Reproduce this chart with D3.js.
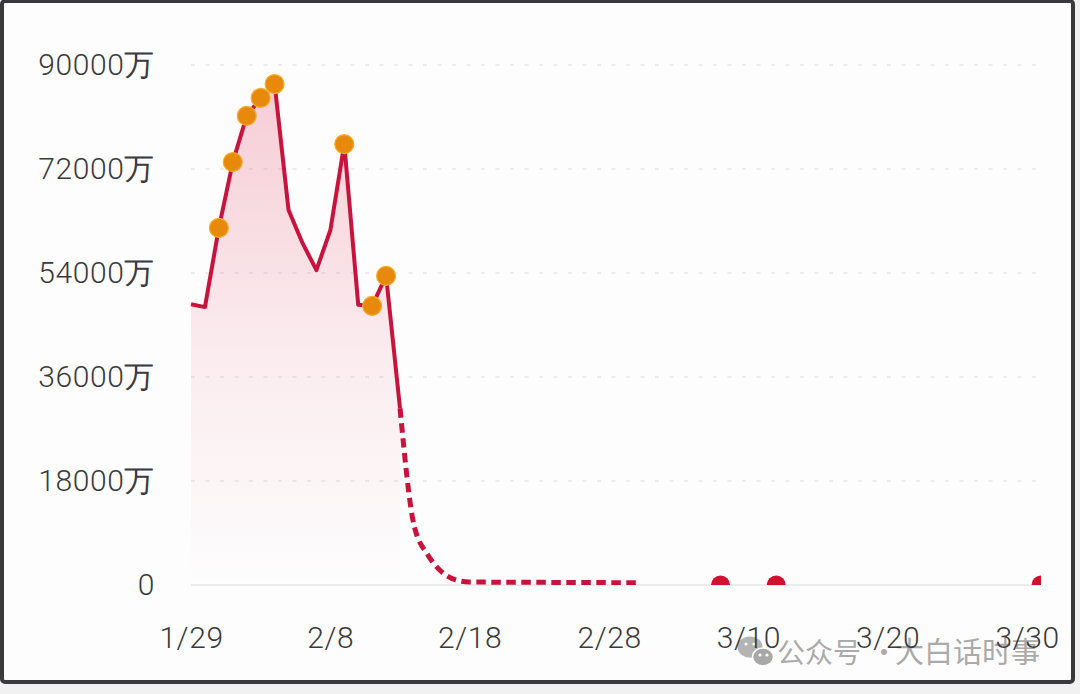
<!DOCTYPE html>
<html><head><meta charset="utf-8">
<script src="https://cdn.jsdelivr.net/npm/d3@7"></script>
<style>html,body{margin:0;padding:0;background:#f1f1f1;overflow:hidden}</style>
</head><body><svg id="c" width="1080" height="694"></svg>
<script>
// ---- data ----
const actualDates = ["2025-01-29","2025-01-30","2025-01-31","2025-02-01","2025-02-02","2025-02-03","2025-02-04","2025-02-05","2025-02-06","2025-02-07","2025-02-08","2025-02-09","2025-02-10","2025-02-11","2025-02-12","2025-02-13"];
const actualValues = [48600, 48100, 61800, 73200, 81200, 84300, 86700, 64900, 59200, 54500, 61400, 76300, 48500, 48300, 53500, 30600];
const markedDates = ["2025-01-31","2025-02-01","2025-02-02","2025-02-03","2025-02-04","2025-02-09","2025-02-11","2025-02-12"];
const forecastDates = ["2025-02-13","2025-02-14","2025-02-15","2025-02-16","2025-02-17","2025-02-18","2025-02-19","2025-02-20","2025-02-21","2025-02-22","2025-02-23","2025-02-24","2025-02-25","2025-02-26","2025-02-27","2025-02-28","2025-03-01","2025-03-02"];
const forecastValues = [30600, 10400, 5200, 2250, 870, 520, 500, 490, 480, 470, 460, 450, 440, 430, 420, 410, 400, 400];
const dotDates = ["2025-03-08","2025-03-12","2025-03-31"];
const dotValues = [0, 0, 0];
const xTickDates = ["2025-01-29","2025-02-08","2025-02-18","2025-02-28","2025-03-10","2025-03-20","2025-03-30"];
const yTicks = [0, 18000, 36000, 54000, 72000, 90000];
const watermarkA = "公众号";
const watermarkDot = "·";
const watermarkB = "大白话时事";

const parse = d3.timeParse("%Y-%m-%d");
const fmtISO = d3.timeFormat("%Y-%m-%d");
const svg = d3.select("#c");

// frame
svg.append("rect").attr("x",0).attr("y",0).attr("width",1080).attr("height",694).attr("fill","#f1f1f1");
svg.append("rect").attr("x",2).attr("y",1).attr("width",1071).attr("height",681).attr("rx",3)
  .attr("fill","#fdfdfd").attr("stroke","#3a3a3c").attr("stroke-width",4);

const x = d3.scaleTime().domain([parse("2025-01-29"), parse("2025-03-31")]).range([191, 1041]);
const y = d3.scaleLinear().domain([0, 90000]).range([585, 65]);

const defs = svg.append("defs");
const grad = defs.append("linearGradient").attr("id","ag").attr("gradientUnits","userSpaceOnUse")
  .attr("x1",0).attr("y1",y(90000)).attr("x2",0).attr("y2",y(0));
grad.append("stop").attr("offset","0%").attr("stop-color","#e03a5c").attr("stop-opacity",0.26);
grad.append("stop").attr("offset","55%").attr("stop-color","#e03a5c").attr("stop-opacity",0.09);
grad.append("stop").attr("offset","100%").attr("stop-color","#e03a5c").attr("stop-opacity",0.0);
defs.append("clipPath").attr("id","pc").append("rect")
  .attr("x",x.range()[0]-20).attr("y",0).attr("width",x.range()[1]-x.range()[0]+20).attr("height",y(0));

// grid
const grid = svg.append("g");
yTicks.forEach(t => {
  grid.append("line").attr("x1",191).attr("x2",1041).attr("y1",y(t)).attr("y2",y(t))
    .attr("stroke", t===0 ? "#e6e6e6" : "#dcdcdc").attr("stroke-width", t===0 ? 1.5 : 1.2)
    .attr("stroke-dasharray", t===0 ? null : "4 10.5");
});

// watermark
const wm = svg.append("g");
wm.append("ellipse").attr("cx",750).attr("cy",647).attr("rx",12.5).attr("ry",10.5).attr("fill","#b4b4b4");
wm.append("ellipse").attr("cx",763).attr("cy",657).attr("rx",10.5).attr("ry",9).attr("fill","#a8a8a8").attr("stroke","#fdfdfd").attr("stroke-width",1.5);
[[746,644],[754,644],[760,655],[767,655]].forEach(p=>wm.append("circle").attr("cx",p[0]).attr("cy",p[1]).attr("r",1.6).attr("fill","#fdfdfd"));
wm.append("text").attr("x",777).attr("y",663).text(watermarkA)
  .attr("font-family","'Noto Sans CJK SC'").attr("font-size",28).attr("fill","#aaaaaa");
wm.append("text").attr("x",870).attr("y",663).text(watermarkDot)
  .attr("font-family","'Noto Sans CJK SC'").attr("font-size",28).attr("fill","#aaaaaa");
wm.append("text").attr("x",895).attr("y",663).text(watermarkB)
  .attr("font-family","'Noto Sans CJK SC'").attr("font-size",29).attr("fill","#aaaaaa");

// axes
const fmtDate = d3.timeFormat("%-m/%-d");
const yAxis = svg.append("g").attr("transform","translate(158,0)")
  .call(d3.axisLeft(y).tickValues(yTicks).tickSize(0).tickPadding(3).tickFormat(d => d===0 ? "0" : d + "万"));
const xAxis = svg.append("g").attr("transform",`translate(0,${y(0)})`)
  .call(d3.axisBottom(x).tickValues(xTickDates.map(parse)).tickSize(0).tickPadding(42).tickFormat(fmtDate));
[yAxis, xAxis].forEach(a => {
  a.select(".domain").remove();
  a.selectAll("text").attr("font-family","Roboto").attr("font-weight",300)
    .attr("font-size",30).attr("letter-spacing","0.6px").attr("fill","#3a3a3a");
});

// series
const actual = actualDates.map((d,i)=>({date:parse(d), v:actualValues[i]}));
const forecast = forecastDates.map((d,i)=>({date:parse(d), v:forecastValues[i]}));
const plot = svg.append("g").attr("clip-path","url(#pc)");

plot.append("path").datum(actual).attr("fill","url(#ag)")
  .attr("d", d3.area().x(d=>x(d.date)).y0(y(0)).y1(d=>y(d.v)));

plot.append("path").datum(forecast).attr("fill","none").attr("stroke","#c8143c")
  .attr("stroke-width",5).attr("stroke-dasharray","9.5 5.5")
  .attr("d", d3.line().curve(d3.curveMonotoneX).x(d=>x(d.date)).y(d=>y(d.v)));

plot.append("path").datum(actual).attr("fill","none").attr("stroke","#c8143c")
  .attr("stroke-width",4).attr("stroke-linejoin","round")
  .attr("d", d3.line().x(d=>x(d.date)).y(d=>y(d.v)));

const marked = actual.filter(d => markedDates.includes(fmtISO(d.date)));
plot.selectAll(".mk").data(marked).enter().append("circle")
  .attr("cx",d=>x(d.date)).attr("cy",d=>y(d.v)).attr("r",9.5)
  .attr("fill","#e8890c").attr("stroke","#f0b030").attr("stroke-width",1.2);

const dots = dotDates.map((d,i)=>({date:parse(d), v:dotValues[i]}));
plot.selectAll(".dt").data(dots).enter().append("circle")
  .attr("cx",d=>x(d.date)).attr("cy",d=>y(d.v)).attr("r",9.5)
  .attr("fill","#d0102e");
</script>
</body></html>
